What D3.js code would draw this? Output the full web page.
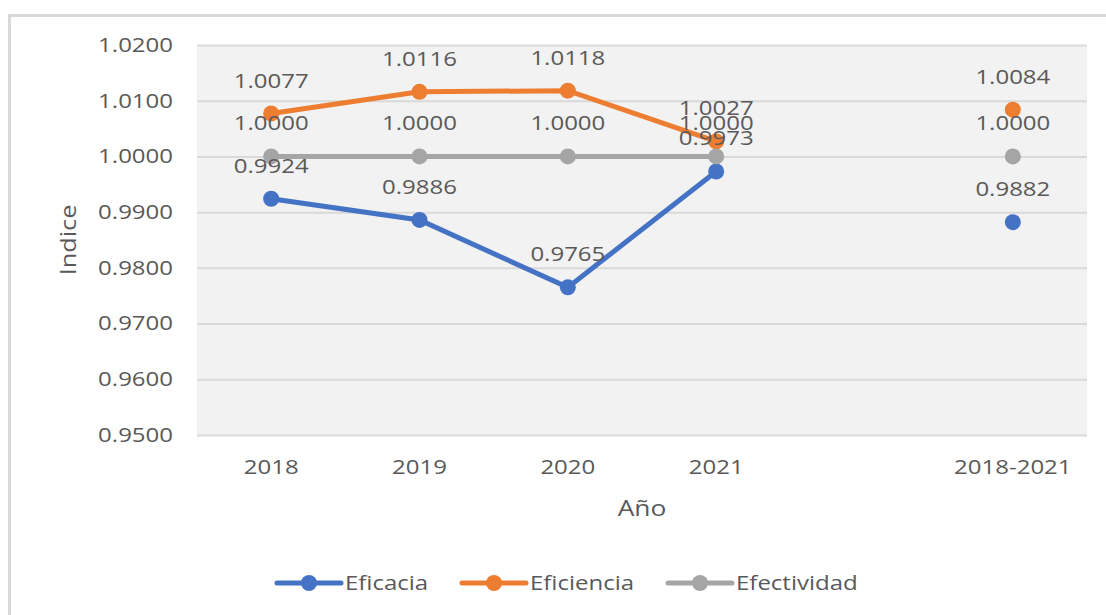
<!DOCTYPE html>
<html><head><meta charset="utf-8">
<script src="https://cdn.jsdelivr.net/npm/d3@7"></script>
<style>body{margin:0;background:#fff;}svg{display:block;font-family:"Open Sans",sans-serif;}</style>
</head><body>
<svg id="c" width="1106" height="615"></svg>
<script>
const categories = ["2018","2019","2020","2021","","2018-2021"];
const eficacia = [0.9924, 0.9886, 0.9765, 0.9973, null, 0.9882];
const eficiencia = [1.0077, 1.0116, 1.0118, 1.0027, null, 1.0084];
const efectividad = [1.0000, 1.0000, 1.0000, 1.0000, null, 1.0000];
const yTicks = [0.95, 0.96, 0.97, 0.98, 0.99, 1.00, 1.01, 1.02];
const seriesNames = ["Eficacia","Eficiencia","Efectividad"];
const seriesColors = ["#4472C4","#ED7D31","#A5A5A5"];

const svg = d3.select("#c");
const textColor = "#595959";
const SX = 1.2; // horizontal stretch of the reference text
function stext(parent, x, y, str, size, anchor){
  return parent.append("text").attr("transform",`translate(${x},${y}) scale(${SX},1)`)
    .attr("text-anchor",anchor||"middle").attr("fill",textColor).attr("font-size",size).text(str);
}
// outer frame
svg.append("rect").attr("x",9.5).attr("y",15.5).attr("width",1110).attr("height",620)
  .attr("fill","#fff").attr("stroke","#D9D9D9").attr("stroke-width",3);

const L=197, R=1087, T=45, B=435;
const x = d3.scaleBand().domain(categories.map((c,i)=>i)).range([L,R]).paddingInner(0).paddingOuter(0);
const y = d3.scaleLinear().domain([0.95,1.02]).range([B,T]);
const cx = i => x(i) + x.bandwidth()/2;

svg.append("rect").attr("x",L).attr("y",T).attr("width",R-L).attr("height",B-T).attr("fill","#F2F2F2");
const yAxis = d3.axisLeft(y).tickValues(yTicks).tickFormat(d3.format(".4f")).tickSize(-(R-L)).tickPadding(24);
const gy = svg.append("g").attr("transform",`translate(${L},0)`).call(yAxis);
gy.select(".domain").remove();
gy.selectAll(".tick line").attr("stroke","#D9D9D9").attr("stroke-width",2);
gy.selectAll(".tick text").attr("fill",textColor).attr("font-size",20).attr("font-family","Open Sans")
  .attr("x",null).attr("transform",`translate(-24,0) scale(${SX},1)`);

const xAxis = d3.axisBottom(x).tickFormat(i=>categories[i]).tickSize(0).tickPadding(25);
const gx = svg.append("g").attr("transform",`translate(0,${B})`).call(xAxis);
gx.select(".domain").remove();
gx.selectAll(".tick text").attr("fill",textColor).attr("font-size",20).attr("font-family","Open Sans")
  .attr("y",null).attr("dy",null)
  .attr("transform",`translate(0,39) scale(${SX},1)`);

stext(svg, 642, 516, "Año", 22);
svg.append("text").attr("transform","translate(76,240) rotate(-90) scale(1.15,1)").attr("text-anchor","middle")
  .attr("fill",textColor).attr("font-size",22).text("Indice");

const data = [eficacia, eficiencia, efectividad];
const line = d3.line().defined(d=>d!=null).x((d,i)=>cx(i)).y(d=>y(d));
data.forEach((vals,s)=>{
  const g = svg.append("g");
  g.append("path").datum(vals).attr("d",line).attr("fill","none")
    .attr("stroke",seriesColors[s]).attr("stroke-width",5).attr("stroke-linecap","round");
  g.selectAll("circle").data(vals.map((v,i)=>({v,i})).filter(d=>d.v!=null)).join("circle")
    .attr("cx",d=>cx(d.i)).attr("cy",d=>y(d.v)).attr("r",8).attr("fill",seriesColors[s]);
});
data.forEach((vals,s)=>{
  const g = svg.append("g");
  vals.forEach((v,i)=>{ if(v!=null) stext(g, cx(i), y(v)-26, d3.format(".4f")(v), 20); });
});

// legend
const legX = [277, 462, 668];
seriesNames.forEach((n,s)=>{
  const g = svg.append("g").attr("transform",`translate(${legX[s]},583)`);
  g.append("line").attr("x1",0).attr("x2",64).attr("stroke",seriesColors[s]).attr("stroke-width",5).attr("stroke-linecap","round");
  g.append("circle").attr("cx",32).attr("r",8).attr("fill",seriesColors[s]);
  stext(g, 68, 7, n, 20, "start");
});
</script>
</body></html>
